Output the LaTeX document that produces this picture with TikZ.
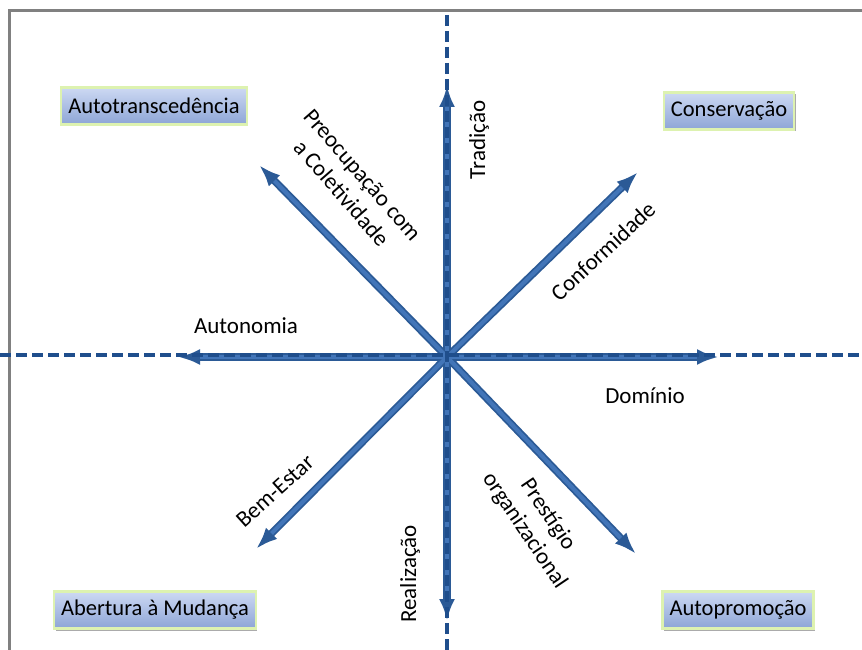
\documentclass[tikz,border=0pt]{standalone}
\usepackage{fontspec}
\setmainfont{Carlito}
\usetikzlibrary{arrows.meta,shadows}
\definecolor{framegray}{HTML}{808080}
\definecolor{axisblue}{HTML}{1F4E8C}
\definecolor{arrowblue}{HTML}{4275B8}
\definecolor{arrowedge}{HTML}{2B5A96}
\definecolor{boxtop}{HTML}{CDD9F3}
\definecolor{boxbottom}{HTML}{8DA5D6}
\definecolor{boxglow}{HTML}{DDF2B0}
\tikzset{
  lbl/.style={font=\fontsize{23}{28}\selectfont, text=black, inner sep=0pt, align=center},
  quadbox/.style={font=\fontsize{22.5}{25}\selectfont, text=black, draw=boxglow, line width=2.2pt,
    top color=boxtop, bottom color=boxbottom, minimum height=37pt, inner xsep=7pt,
    drop shadow={shadow xshift=1.5pt, shadow yshift=-2pt, fill=black!55, opacity=0.6}},
  axisline/.style={draw=axisblue, line width=4pt, dash pattern=on 11pt off 5pt},
  bluearrow/.style={draw=arrowedge, line width=7.5pt,
    -{Latex[length=22pt,width=16pt]}},
  bluearrowboth/.style={draw=arrowedge, line width=7.5pt,
    {Latex[length=22pt,width=16pt]}-{Latex[length=22pt,width=16pt]}},
  innerline/.style={draw=arrowblue, line width=4pt}
}
\begin{document}
\begin{tikzpicture}[x=1pt,y=-1pt]
\useasboundingbox (0,0) rectangle (862,650);
% frame
\draw[framegray, line width=3pt] (9,650) -- (9,11) -- (862,11);

% reference points
\coordinate (c) at (447,357);
\coordinate (n) at (447,85);
\coordinate (s) at (447,621);
\coordinate (w) at (178,357);
\coordinate (e) at (719,357);
\coordinate (ne) at (638,172);
\coordinate (nw) at (259,165);
\coordinate (sw) at (256,549);
\coordinate (se) at (636,554);
\coordinate (axtop) at (447,15);
\coordinate (axbot) at (447,650);
\coordinate (axleft) at (0,355);
\coordinate (axright) at (862,355);

% arrows
\draw[bluearrow] (c) -- (ne);
\draw[bluearrow] (c) -- (nw);
\draw[bluearrow] (c) -- (sw);
\draw[bluearrow] (c) -- (se);
\draw[bluearrowboth] (s) -- (n);
\draw[bluearrowboth] (w) -- (e);
\draw[innerline, shorten >=22pt] (c) -- (ne);
\draw[innerline, shorten >=22pt] (c) -- (nw);
\draw[innerline, shorten >=22pt] (c) -- (sw);
\draw[innerline, shorten >=22pt] (c) -- (se);
\draw[innerline, shorten >=22pt, shorten <=22pt] (s) -- (n);
\draw[innerline, shorten >=22pt, shorten <=22pt] (w) -- (e);

% dashed axes
\draw[axisline] (axtop) -- (axbot);
\draw[axisline] (axleft) -- (axright);

% arrow labels
\node[lbl, rotate=90] (trad) at (479,140) {Tradição};
\node[lbl, rotate=-49] (preoc) at (352,184) {Preocupação com\\a Coletividade};
\node[lbl, rotate=43] (conf) at (603,251) {Conformidade};
\node[lbl] (auton) at (246,326) {Autonomia};
\node[lbl] (domin) at (645,396) {Domínio};
\node[lbl, rotate=42] (bem) at (275,491) {Bem-Estar};
\node[lbl, rotate=90] (real) at (410,574) {Realização};
\node[lbl, rotate=-56] (prest) at (536,523) {Prestígio\\organizacional};

% quadrant boxes
\node[quadbox] (autot) at (154,106) {Autotranscedência};
\node[quadbox] (conserv) at (729,111) {Conservação};
\node[quadbox] (abert) at (155,610) {Abertura à Mudança};
\node[quadbox] (autop) at (738,610) {Autopromoção};
\end{tikzpicture}
\end{document}
